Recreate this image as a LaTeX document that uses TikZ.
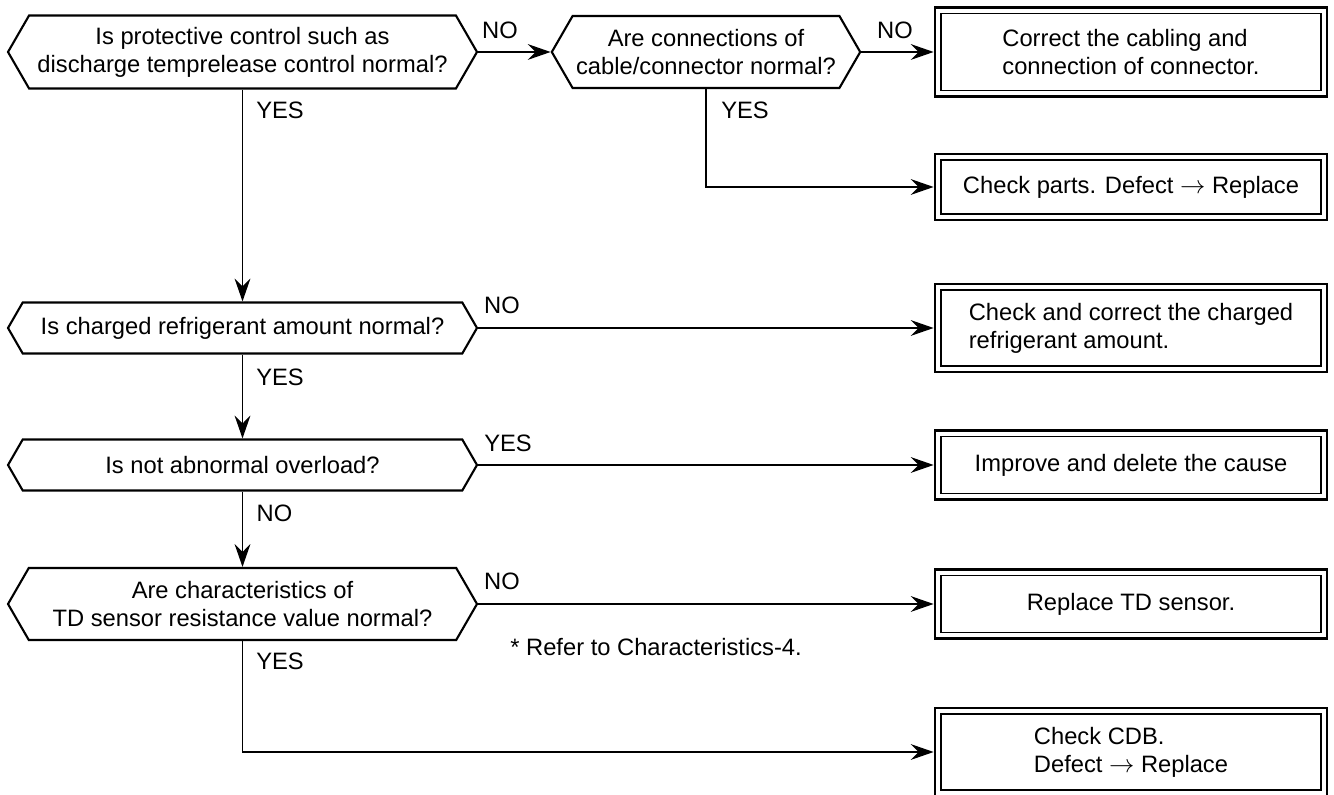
\documentclass[tikz,border=0pt]{standalone}
\usepackage{fontspec}
\setmainfont{Liberation Sans}
\usetikzlibrary{positioning,arrows.meta,shapes.symbols}

\begin{document}
\begin{tikzpicture}[
  ask/.style={signal, signal to=west and east, signal pointer angle=120,
              draw=black, line width=1.2pt, font=\fontsize{13.5}{16}\selectfont,
              minimum width=9.38cm, minimum height=#1, align=center, inner sep=2pt},
  fix/.style={rectangle, draw=black, line width=1.6pt, font=\fontsize{13.5}{16}\selectfont,
              minimum width=7.84cm, minimum height=#1, align=left},
  lbl/.style={font=\fontsize{13.5}{16}\selectfont, inner sep=0pt},
  ar/.style={-{Stealth[length=13pt, width=9pt, inset=4.5pt]}, line width=0.75pt},
]
\useasboundingbox (0,0) rectangle (26.68,15.88);

% questions
\node[ask=1.46cm] (d1) at (4.85, 14.84) {Is protective control such as\\discharge temprelease control normal?};
\node[ask=1.44cm, minimum width=6.16cm] (d2) at (14.12, 14.84) {Are connections of\\cable/connector normal?};
\node[ask=1.02cm] (d3) at (4.85, 9.32) {Is charged refrigerant amount normal?};
\node[ask=1.02cm] (d4) at (4.85, 6.58) {Is not abnormal overload?};
\node[ask=1.44cm] (d5) at (4.85, 3.80) {Are characteristics of\\TD sensor resistance value normal?};

% remedies
\node[fix=1.78cm] (r1) at (22.62, 14.84) {Correct the cabling and\\connection of connector.};
\node[fix=1.32cm] (r2) at (22.62, 12.14) {Check parts. Defect $\rightarrow$ Replace};
\node[fix=1.76cm] (r3) at (22.62, 9.32) {Check and correct the charged\\refrigerant amount.};
\node[fix=1.38cm] (r4) at (22.62, 6.58) {Improve and delete the cause};
\node[fix=1.38cm] (r5) at (22.62, 3.80) {Replace TD sensor.};
\node[fix=1.76cm] (r6) at (22.62, 0.84) {Check CDB.\\Defect $\rightarrow$ Replace};

\foreach \r in {r1,r2,r3,r4,r5,r6}
  \draw[line width=0.8pt] ([shift={(0.15,-0.15)}]\r.north west) rectangle ([shift={(-0.15,0.15)}]\r.south east);

% flow
\draw[ar] (d1.east) -- (d2.west);
\draw[ar] (d2.east) -- (r1.west);
\draw[ar] (d2.south) |- (r2.west);
\draw[ar] (d1.south) -- (d3.north);
\draw[ar] (d3.east) -- (r3.west);
\draw[ar] (d3.south) -- (d4.north);
\draw[ar] (d4.east) -- (r4.west);
\draw[ar] (d4.south) -- (d5.north);
\draw[ar] (d5.east) -- (r5.west);
\draw[ar] (d5.south) |- (r6.west);

% answers
\node[lbl] (no1)  at (10.00, 15.28) {NO};
\node[lbl] (no2)  at (17.90, 15.28) {NO};
\node[lbl] (yes1) at (5.60, 13.68) {YES};
\node[lbl] (yes2) at (14.90, 13.68) {YES};
\node[lbl] (no3)  at (10.04, 9.78) {NO};
\node[lbl] (yes3) at (5.60, 8.34) {YES};
\node[lbl] (yes4) at (10.16, 7.02) {YES};
\node[lbl] (no4)  at (5.49, 5.62) {NO};
\node[lbl] (no5)  at (10.04, 4.26) {NO};
\node[lbl] (yes5) at (5.60, 2.65) {YES};
\node[lbl, anchor=west] (note) at (10.20, 2.94) {* Refer to Characteristics-4.};

\end{tikzpicture}
\end{document}
